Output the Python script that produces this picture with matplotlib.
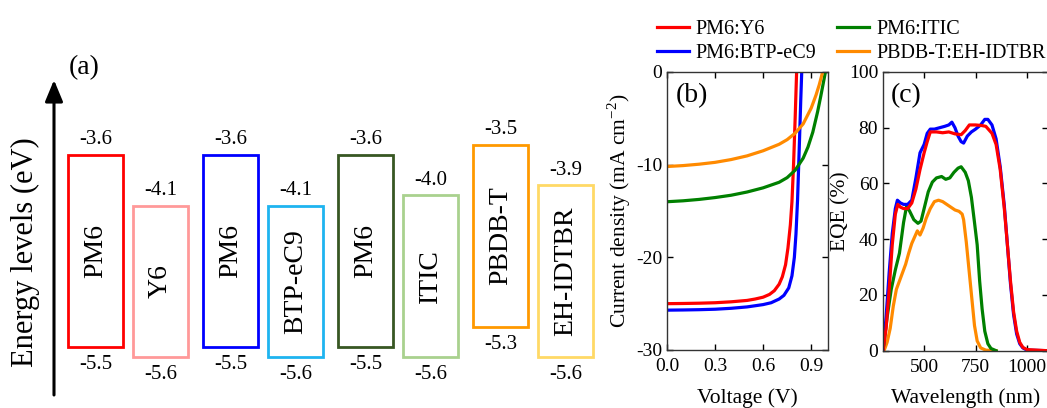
import matplotlib
matplotlib.use('Agg')
from matplotlib import pyplot as plt
from matplotlib.patches import Rectangle

plt.rcParams['font.family'] = ['Liberation Serif', 'DejaVu Serif']
plt.rcParams['mathtext.fontset'] = 'custom'
plt.rcParams['mathtext.rm'] = 'Liberation Serif'
plt.rcParams['axes.unicode_minus'] = False

# (a) energy levels
donors = ['PM6', 'PM6', 'PM6', 'PBDB-T']
acceptors = ['Y6', 'BTP-eC9', 'ITIC', 'EH-IDTBR']
donor_lumo = [-3.6, -3.6, -3.6, -3.5]
donor_homo = [-5.5, -5.5, -5.5, -5.3]
acc_lumo = [-4.1, -4.1, -4.0, -3.9]
acc_homo = [-5.6, -5.6, -5.6, -5.6]
donor_colors = ['#ff0000', '#0000ff', '#385723', '#ff9900']
acc_colors = ['#ff9999', '#1eb4f0', '#a9d18e', '#ffd966']

# (b) J-V
v_y6 = [0, 0.1, 0.2, 0.3, 0.4, 0.5, 0.55, 0.6, 0.64, 0.67, 0.70, 0.72, 0.74, 0.755, 0.77, 0.78, 0.79, 0.80, 0.81]
j_y6 = [-25.0, -24.98, -24.95, -24.9, -24.8, -24.65, -24.5, -24.3, -24.0, -23.6, -22.9, -22.1, -20.8, -19.0, -16.5, -14.0, -10.0, -5.0, 0.5]
v_btp = [0, 0.1, 0.2, 0.3, 0.4, 0.5, 0.6, 0.65, 0.70, 0.73, 0.76, 0.78, 0.795, 0.805, 0.815, 0.825, 0.835, 0.845]
j_btp = [-25.7, -25.68, -25.65, -25.6, -25.5, -25.35, -25.1, -24.9, -24.5, -24.1, -23.3, -22.0, -20.0, -17.5, -13.8, -8.5, -3.0, 2.0]
v_itic = [0, 0.1, 0.2, 0.3, 0.4, 0.5, 0.6, 0.7, 0.75, 0.8, 0.85, 0.88, 0.91, 0.94, 0.96, 0.98, 1.0]
j_itic = [-14.0, -13.9, -13.75, -13.55, -13.3, -12.95, -12.5, -11.9, -11.4, -10.6, -9.3, -8.1, -6.5, -4.3, -2.6, -0.8, 1.0]
v_eh = [0, 0.1, 0.2, 0.3, 0.4, 0.5, 0.6, 0.7, 0.75, 0.8, 0.85, 0.9, 0.93, 0.95, 0.97, 0.99]
j_eh = [-10.2, -10.1, -9.95, -9.75, -9.45, -9.05, -8.5, -7.8, -7.3, -6.6, -5.6, -3.9, -2.5, -1.4, -0.1, 1.2]

# (c) EQE
wl_btp = [300, 315, 330, 345, 360, 370, 385, 400, 420, 440, 460, 480, 500, 515, 530, 550, 575, 600, 620, 635,
          650, 665, 680, 692, 710, 730, 750, 775, 795, 810, 830, 850, 870, 890, 905, 920, 935, 950, 965, 980, 1000, 1100]
eqe_btp = [0, 12, 28, 42, 51, 54, 53, 52.5, 52.5, 54, 62, 71, 74, 78, 79.5, 79.5, 80, 80.5, 81, 82,
           80, 77, 75, 74.5, 77, 78.5, 79.5, 81, 83, 83, 81, 76, 66, 52, 38, 24, 13, 6, 2.5, 1, 0.2, 0]
wl_y6 = [300, 315, 330, 345, 360, 372, 385, 400, 420, 440, 460, 480, 500, 515, 530, 560, 590, 620, 650, 680,
         700, 720, 750, 780, 800, 830, 850, 870, 890, 905, 920, 935, 950, 965, 980, 1000, 1100]
eqe_y6 = [0, 8, 22, 38, 49, 52.5, 51.5, 51, 51, 53, 58, 65, 71, 75, 78.5, 78.5, 78.2, 78.5, 77.8, 77.5,
          79, 81, 81, 80.8, 80.5, 78, 74, 65, 51, 38, 25, 14, 7, 3, 1.2, 0.4, 0]
wl_itic = [300, 320, 340, 360, 380, 400, 415, 430, 450, 470, 485, 500, 520, 540, 560, 585, 605, 625, 645, 665,
           680, 700, 715, 730, 745, 758, 770, 782, 795, 810, 825, 850]
eqe_itic = [0, 12, 22, 29, 35, 46, 52, 50, 47, 45.7, 46.5, 51, 57, 60.5, 62, 62.5, 61.5, 62, 64, 65.5,
            66, 64, 61, 55, 46, 38, 25, 15, 7, 2.5, 0.8, 0]
wl_eh = [305, 320, 335, 350, 365, 380, 395, 410, 425, 440, 455, 467, 480, 495, 510, 530, 550, 570, 590, 610,
         630, 650, 670, 685, 692, 705, 717, 733, 745, 758, 775, 800, 850]
eqe_eh = [0, 3, 8, 16, 22, 25, 28, 31, 35, 38.5, 41, 43, 41.5, 44, 47.5, 51, 53.5, 54, 53.5, 52.5,
          51.5, 50.5, 50, 49, 47, 39, 30, 18, 9, 3.5, 1, 0.2, 0]

fig = plt.figure(figsize=(10.47, 4.08), dpi=100)

# ---- panel (a), drawn in an invisible axes (x in pixels, y in eV)
ax_a = fig.add_axes([0, 0, 0.62, 1])
ax_a.set_xlim(0, 0.62 * 1047)
ax_a.set_ylim(-6.105, -2.065)
ax_a.axis('off')
box_w = 55
for i in range(len(donors)):
    x0 = 68 + i * 135
    for x, lumo, homo, name, c in [(x0, donor_lumo[i], donor_homo[i], donors[i], donor_colors[i]),
                                   (x0 + 65, acc_lumo[i], acc_homo[i], acceptors[i], acc_colors[i])]:
        ax_a.add_patch(Rectangle((x, homo), box_w, lumo - homo, fill=False, edgecolor=c, lw=2))
        ax_a.text(x + box_w / 2, (lumo + homo) / 2, name, rotation=90, ha='center', va='center', fontsize=20)
        ax_a.annotate('{:.1f}'.format(lumo), (x + box_w / 2, lumo), xytext=(0, 4), textcoords='offset points',
                      ha='center', va='bottom', fontsize=15)
        ax_a.annotate('{:.1f}'.format(homo), (x + box_w / 2, homo), xytext=(0, -6), textcoords='offset points',
                      ha='center', va='top', fontsize=15)
ax_a.annotate('', xy=(54, 328), xytext=(54, 13), xycoords='figure pixels', textcoords='figure pixels',
              arrowprops=dict(arrowstyle='-|>,head_length=0.65,head_width=0.27', lw=2.2, color='k',
                              mutation_scale=20, shrinkA=0, shrinkB=0))
fig.text(84, 408 - 68, '(a)', fontsize=20, ha='center', va='center', transform=None)
fig.text(25, 408 - 252, 'Energy levels (eV)', fontsize=22, rotation=90, ha='center', va='center', transform=None)

# ---- panel (b)
ax_b = fig.add_axes([667 / 1047, 58 / 408, 161 / 1047, 278 / 408])
lw = 2.3
l1, = ax_b.plot(v_y6, j_y6, color='#ff0000', lw=lw, label='PM6:Y6')
l2, = ax_b.plot(v_btp, j_btp, color='#0000ff', lw=lw, label='PM6:BTP-eC9')
l3, = ax_b.plot(v_itic, j_itic, color='#008000', lw=lw, label='PM6:ITIC')
l4, = ax_b.plot(v_eh, j_eh, color='#ff8a00', lw=lw, label='PBDB-T:EH-IDTBR')
ax_b.set_xlim(0, 1.005)
ax_b.set_ylim(-30, 0)
ax_b.set_xticks([0, 0.3, 0.6, 0.9])
ax_b.set_xticklabels(['0.0', '0.3', '0.6', '0.9'])
ax_b.set_yticks([0, -10, -20, -30])
ax_b.set_xlabel('Voltage (V)', fontsize=15.5, labelpad=9)
ax_b.set_ylabel('Current density (mA cm$^{-2}$)', fontsize=15.5, labelpad=2)
ax_b.text(0.155, 0.915, '(b)', transform=ax_b.transAxes, fontsize=20, ha='center', va='center')

# ---- panel (c)
ax_c = fig.add_axes([883 / 1047, 57.3 / 408, 164.5 / 1047, 278.7 / 408])
ax_c.plot(wl_eh, eqe_eh, color='#ff8a00', lw=lw)
ax_c.plot(wl_itic, eqe_itic, color='#008000', lw=lw)
ax_c.plot(wl_btp, eqe_btp, color='#0000ff', lw=lw)
ax_c.plot(wl_y6, eqe_y6, color='#ff0000', lw=lw)
ax_c.set_xlim(300, 1100)
ax_c.set_ylim(0, 100)
ax_c.set_xticks([500, 750, 1000])
ax_c.set_yticks([0, 20, 40, 60, 80, 100])
ax_c.set_xlabel('Wavelength (nm)', fontsize=15.5, labelpad=9)
ax_c.set_ylabel('EQE (%)', fontsize=15.5, labelpad=-1)
ax_c.text(0.14, 0.914, '(c)', transform=ax_c.transAxes, fontsize=20, ha='center', va='center')

for ax in [ax_b, ax_c]:
    ax.tick_params(direction='in', top=True, right=True, labelsize=14, length=4, width=1)
    ax.tick_params(axis='x', pad=6)
    for s in ax.spines.values():
        s.set_linewidth(1)
        s.set_color('#333333')

fig.legend(handles=[l1, l2, l3, l4], ncol=2, loc='center', bbox_to_anchor=(851 / 1047, 1 - 41.5 / 408),
           frameon=False, fontsize=14.5, handlelength=1.6, handletextpad=0.35, columnspacing=1.0,
           labelspacing=0.25, borderpad=0)

plt.savefig('out.png', dpi=100)
